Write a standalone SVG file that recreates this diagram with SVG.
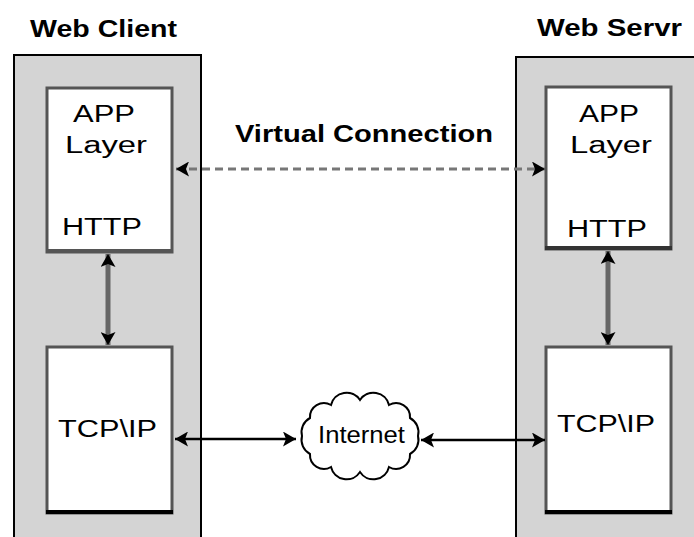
<svg xmlns="http://www.w3.org/2000/svg" width="694" height="537" viewBox="0 0 694 537">
<style>
.host{fill:#d4d4d4;stroke:#000;stroke-width:2}
.layer{fill:#fff;stroke:#555;stroke-width:3}
.title{font-family:"Liberation Sans",Arial,sans-serif;font-size:24px;font-weight:bold;fill:#000}
.lbl{font-family:"Liberation Sans",Arial,sans-serif;font-size:23px;fill:#000}
.vert{stroke:#666;stroke-width:5;fill:none}
.link{stroke:#000;stroke-width:2.5;fill:none}
.dash{stroke:#777;stroke-width:3;stroke-dasharray:8 5;fill:none}
</style>
<defs>
<marker id="ah" viewBox="0 0 13 15" refX="13" refY="7.5" markerWidth="13" markerHeight="15" markerUnits="userSpaceOnUse" orient="auto-start-reverse">
<path d="M0,0 L13,7.5 L0,15 L3,7.5 Z" fill="#000"/>
</marker>
</defs>
<rect width="694" height="537" fill="#fff"/>
<g id="web-client">
<rect class="host" x="14" y="55" width="187" height="500"/>
<text class="title" x="30" y="37" textLength="147" lengthAdjust="spacingAndGlyphs">Web Client</text>
</g>
<g id="web-server">
<rect class="host" x="516" y="57" width="200" height="500"/>
<text class="title" x="537" y="36" textLength="145" lengthAdjust="spacingAndGlyphs">Web Servr</text>
</g>
<g id="client-app">
<rect class="layer" x="47" y="88" width="125" height="164"/>
<line x1="46" y1="251" x2="173" y2="251" stroke="#555" stroke-width="4"/>
<text class="lbl" x="73" y="122" textLength="62" lengthAdjust="spacingAndGlyphs">APP</text>
<text class="lbl" x="65" y="153" textLength="82" lengthAdjust="spacingAndGlyphs">Layer</text>
<text class="lbl" x="62" y="235" textLength="80" lengthAdjust="spacingAndGlyphs">HTTP</text>
</g>
<g id="client-tcp">
<rect class="layer" x="47" y="347" width="125" height="166"/>
<line x1="46" y1="512" x2="173" y2="512" stroke="#000" stroke-width="4"/>
<text class="lbl" x="58" y="437" textLength="99" lengthAdjust="spacingAndGlyphs">TCP\IP</text>
</g>
<g id="server-app">
<rect class="layer" x="546" y="87" width="125" height="162"/>
<line x1="545" y1="248" x2="672" y2="248" stroke="#333" stroke-width="4"/>
<text class="lbl" x="579" y="122" textLength="60" lengthAdjust="spacingAndGlyphs">APP</text>
<text class="lbl" x="570" y="153" textLength="82" lengthAdjust="spacingAndGlyphs">Layer</text>
<text class="lbl" x="567" y="237" textLength="80" lengthAdjust="spacingAndGlyphs">HTTP</text>
</g>
<g id="server-tcp">
<rect class="layer" x="546" y="347" width="125" height="166"/>
<line x1="545" y1="512" x2="672" y2="512" stroke="#000" stroke-width="4"/>
<text class="lbl" x="557" y="432" textLength="98" lengthAdjust="spacingAndGlyphs">TCP\IP</text>
</g>
<g id="internet">
<path d="M418,436 A16,16 0 0 1 410,454 A14,14 0 0 1 389,467 A16,16 0 0 1 360,472 A16,16 0 0 1 331,467 A14,14 0 0 1 310,454 A16,16 0 0 1 302,436 A16,16 0 0 1 310,418 A14,14 0 0 1 331,405 A16,16 0 0 1 360,400 A16,16 0 0 1 389,405 A14,14 0 0 1 410,418 A16,16 0 0 1 418,436 Z" fill="#fff" stroke="#000" stroke-width="2"/>
<text class="lbl" x="318" y="443" font-size="21" textLength="87" lengthAdjust="spacingAndGlyphs">Internet</text>
</g>
<g id="connectors">
<line class="vert" x1="108" y1="254" x2="108" y2="345" marker-start="url(#ah)" marker-end="url(#ah)"/>
<line class="vert" x1="608" y1="251" x2="608" y2="345" marker-start="url(#ah)" marker-end="url(#ah)"/>
<line class="dash" x1="176" y1="169" x2="545" y2="169" marker-start="url(#ah)" marker-end="url(#ah)"/>
<text class="title" x="235" y="142" font-size="25" textLength="258" lengthAdjust="spacingAndGlyphs">Virtual Connection</text>
<line class="link" x1="175" y1="439" x2="296" y2="439" marker-start="url(#ah)" marker-end="url(#ah)"/>
<line class="link" x1="421" y1="440" x2="545" y2="440" marker-start="url(#ah)" marker-end="url(#ah)"/>
</g>
</svg>
